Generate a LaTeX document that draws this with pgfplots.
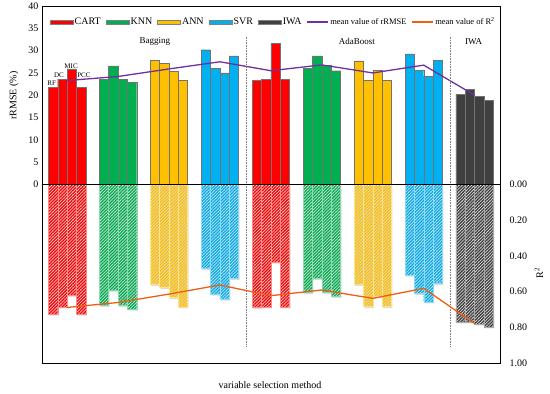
\documentclass[border=0pt]{standalone}
\usepackage{fontspec}
\setmainfont{Liberation Serif}
\usepackage{pgfplots}
\pgfplotsset{compat=1.18}
\usepackage{pgfplotstable}
\usetikzlibrary{patterns.meta}

\definecolor{cart}{HTML}{FF0000}
\definecolor{knn}{HTML}{00B050}
\definecolor{ann}{HTML}{FFC000}
\definecolor{svr}{HTML}{00B0F0}
\definecolor{iwa}{HTML}{404040}
\definecolor{mpurple}{HTML}{7030A0}
\definecolor{morange}{HTML}{EC5F14}

\pgfplotstableread{
x rmse r2
0 21.8 0.726
1 23.6 0.685
2 25.9 0.620
3 21.8 0.726
21.8 23.4 0.689
22.8 23.5 0.685
23.8 31.6 0.434
24.8 23.6 0.685
}\tcart
\pgfplotstableread{
x rmse r2
5.45 23.6 0.676
6.45 26.6 0.592
7.45 23.6 0.676
8.45 22.9 0.698
27.25 26.1 0.605
28.25 28.8 0.525
29.25 26.7 0.605
30.25 25.5 0.628
}\tknn
\pgfplotstableread{
x rmse r2
10.9 27.8 0.559
11.9 27.2 0.577
12.9 25.3 0.633
13.9 23.4 0.685
32.7 27.7 0.559
33.7 23.4 0.683
34.7 25.6 0.628
35.7 23.4 0.683
}\tann
\pgfplotstableread{
x rmse r2
16.35 30.2 0.471
17.35 26.0 0.614
18.35 25.0 0.642
19.35 28.8 0.525
38.15 29.3 0.507
39.15 25.6 0.609
40.15 24.3 0.657
41.15 27.8 0.555
}\tsvr
\pgfplotstableread{
x rmse r2
43.6 20.2 0.769
44.6 21.3 0.769
45.6 19.7 0.782
46.6 18.9 0.797
}\tiwa
\pgfplotstableread{
x rmse r2
1.5 23.3 0.689
6.95 24.2 0.661
12.4 25.9 0.614
17.85 27.5 0.563
23.3 25.5 0.623
28.75 26.8 0.591
34.2 25.0 0.638
39.65 26.75 0.582
45.1 20.0 0.779
}\tmean

\pgfplotsset{
  barleg/.style={legend image code/.code={\path (0pt,0pt); \draw[##1,draw=black!50,line width=0.4pt] (4pt,-2.2pt) rectangle (27pt,2.2pt);}},
  lineleg/.style={legend image code/.code={\path (0pt,0pt); \draw[##1] (4pt,0pt) -- (25pt,0pt);}},
  upbar/.style={ybar, bar width=1, bar shift=0pt, draw=black!55, line width=0.4pt, fill=#1, barleg},
  dnbar/.style={ybar, bar width=1, bar shift=0pt, draw=#1!45, line width=0.4pt,
     pattern={Lines[angle=45,distance=2.2pt,line width=1.3pt]}, pattern color=#1, forget plot},
  shbar/.style={ybar, bar width=1, bar shift=0pt, draw=none, fill=black!14, xshift=1pt, yshift=-1.6pt, forget plot},
}

\begin{document}
\begin{tikzpicture}
\useasboundingbox (-42pt,-31pt) rectangle (508pt,363pt);
\begin{axis}[
  scale only axis, width=458pt, height=357pt,
  xmin=-1.18, xmax=47.81, ymin=-40, ymax=40,
  xtick=\empty, ytick={0,5,...,40},
  major tick length=0pt,
  axis line style={line width=0.9pt},
  tick label style={font=\fontsize{10}{12}\selectfont},
  /pgf/number format/assume math mode=true,
  legend columns=7,
  legend style={at={(rel axis cs:0.002,0.955)}, anchor=west, draw=none, fill=none,
     font=\fontsize{10}{11}\selectfont, nodes={inner sep=1.2pt}, column sep=0pt},
  clip=false,
]
\addplot[upbar=cart] table[x=x,y=rmse]{\tcart};
\addlegendentry{CART}
\addplot[upbar=knn] table[x=x,y=rmse]{\tknn};
\addlegendentry{KNN}
\addplot[upbar=ann] table[x=x,y=rmse]{\tann};
\addlegendentry{ANN}
\addplot[upbar=svr] table[x=x,y=rmse]{\tsvr};
\addlegendentry{SVR}
\addplot[upbar=iwa] table[x=x,y=rmse]{\tiwa};
\addlegendentry{IWA}
\addplot[mpurple, line width=1.3pt, lineleg] table[x=x,y=rmse]{\tmean};
\addlegendentry{\fontsize{8.5}{9}\selectfont mean value of rRMSE}
\addlegendimage{morange, line width=1.3pt, lineleg}
\addlegendentry{\fontsize{8.5}{9}\selectfont mean value of R\textsuperscript{2}}

\draw[gray, densely dotted, line width=0.6pt] (axis cs:20.72,33.1) -- (axis cs:20.72,-36.4);
\draw[gray, densely dotted, line width=0.6pt] (axis cs:42.53,33.1) -- (axis cs:42.53,-36.4);

\node[font=\fontsize{9}{10}\selectfont] at (axis cs:10.9,32) {Bagging};
\node[font=\fontsize{9}{10}\selectfont] at (axis cs:32.5,32) {AdaBoost};
\node[font=\fontsize{9}{10}\selectfont] at (axis cs:45.0,32) {IWA};

\node[font=\fontsize{7}{8}\selectfont] at (axis cs:-0.14,22.6) {RF};
\node[font=\fontsize{7}{8}\selectfont] at (axis cs:0.64,24.6) {DC};
\node[font=\fontsize{7}{8}\selectfont] at (axis cs:1.93,26.5) {MIC};
\node[font=\fontsize{7}{8}\selectfont] at (axis cs:3.3,24.6) {PCC};

\node[rotate=90, font=\fontsize{10}{12}\selectfont] at (rel axis cs:-0.061,0.749) {rRMSE (\%)};
\node[rotate=90, font=\fontsize{10}{12}\selectfont] at (rel axis cs:1.085,0.252) {R\textsuperscript{2}};
\node[font=\fontsize{10}{12}\selectfont] at (rel axis cs:0.498,-0.062) {variable selection method};
\end{axis}
\begin{axis}[
  scale only axis, width=458pt, height=357pt,
  xmin=-1.18, xmax=47.81, ymin=-1, ymax=1, y dir=reverse,
  axis x line=none, axis y line*=right,
  ytick={0,0.2,0.4,0.6,0.8,1},
  major tick length=0pt,
  axis line style={line width=0.9pt},
  tick label style={font=\fontsize{10}{12}\selectfont},
  /pgf/number format/assume math mode=true,
  yticklabel style={/pgf/number format/.cd, fixed, fixed zerofill, precision=2, /tikz/.cd, xshift=6pt},
]
\addplot[shbar] table[x=x,y=r2]{\tcart};
\addplot[shbar] table[x=x,y=r2]{\tknn};
\addplot[shbar] table[x=x,y=r2]{\tann};
\addplot[shbar] table[x=x,y=r2]{\tsvr};
\addplot[shbar] table[x=x,y=r2]{\tiwa};
\addplot[dnbar=cart] table[x=x,y=r2]{\tcart};
\addplot[dnbar=knn] table[x=x,y=r2]{\tknn};
\addplot[dnbar=ann] table[x=x,y=r2]{\tann};
\addplot[dnbar=svr] table[x=x,y=r2]{\tsvr};
\addplot[dnbar=iwa] table[x=x,y=r2]{\tiwa};
\addplot[morange, line width=1.3pt] table[x=x,y=r2]{\tmean};
\draw[black, line width=1pt] (rel axis cs:0,0.5) -- (rel axis cs:1,0.5);
\end{axis}
\end{tikzpicture}
\end{document}
